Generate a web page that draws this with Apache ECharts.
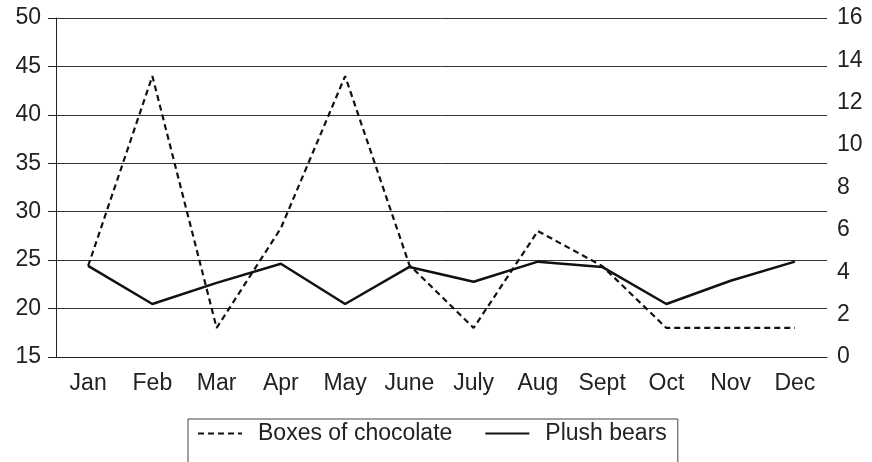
<!DOCTYPE html>
<html>
<head>
<meta charset="utf-8">
<script src="https://cdn.jsdelivr.net/npm/echarts@6/dist/echarts.min.js"></script>
<style>html,body{margin:0;padding:0;background:#fff}#c{width:872px;height:462px}</style>
</head>
<body>
<div id="c"></div>
<script>
var categories = ['Jan','Feb','Mar','Apr','May','June','July','Aug','Sept','Oct','Nov','Dec'];
var chocolate = [24.4, 44, 18, 28.3, 44, 24.5, 18, 28, 24.4, 18, 18, 18];
var bears = [4.3, 2.5, 3.5, 4.4, 2.5, 4.25, 3.55, 4.5, 4.25, 2.5, 3.6, 4.5];
var seriesNames = ['Boxes of chocolate', 'Plush bears'];

var chart = echarts.init(document.getElementById('c'));
var font = 'Liberation Sans, Arial, sans-serif';
chart.setOption({
  animation: false,
  grid: {left: 56, right: 45, top: 18, bottom: 105},
  legend: {
    top: 419,
    left: 188,
    orient: 'horizontal',
    data: seriesNames,
    itemWidth: 44,
    itemHeight: 14,
    itemGap: 32,
    padding: [3, 11, 30, 9],
    borderColor: '#444',
    borderWidth: 1,
    itemStyle: {opacity: 0},
    textStyle: {fontFamily: font, fontSize: 23, color: '#222', padding: [0, 0, 0, 11]}
  },
  xAxis: {
    type: 'category',
    data: categories,
    boundaryGap: true,
    axisLine: {lineStyle: {color: '#222', width: 1}},
    axisTick: {alignWithLabel: true, interval: 0, length: 7, lineStyle: {color: '#222'}},
    axisLabel: {interval: 0, fontFamily: font, fontSize: 23, color: '#222', margin: 15}
  },
  yAxis: [{
    type: 'value', min: 15, max: 50, interval: 5,
    axisLine: {show: true, lineStyle: {color: '#222', width: 1}},
    axisTick: {show: true, length: 8, lineStyle: {color: '#222'}},
    splitLine: {lineStyle: {color: '#333', width: 1}},
    axisLabel: {fontFamily: font, fontSize: 23, color: '#222', margin: 15}
  }, {
    type: 'value', min: 0, max: 16, interval: 2, position: 'right',
    axisLine: {show: false}, axisTick: {show: false}, splitLine: {show: false},
    axisLabel: {fontFamily: font, fontSize: 23, color: '#222', margin: 10}
  }],
  series: [{
    name: seriesNames[0], type: 'line', yAxisIndex: 0, data: chocolate,
    symbol: 'none', lineStyle: {color: '#111', width: 2.2, type: [6, 4]},
    itemStyle: {color: '#111'}
  }, {
    name: seriesNames[1], type: 'line', yAxisIndex: 1, data: bears,
    symbol: 'none', lineStyle: {color: '#111', width: 2.5, type: 'solid'},
    itemStyle: {color: '#111'}
  }]
});
</script>
</body>
</html>
